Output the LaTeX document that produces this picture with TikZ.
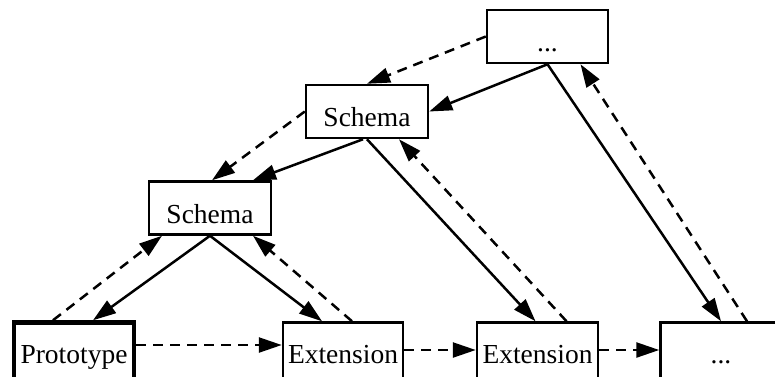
\documentclass[tikz,border=0pt]{standalone}
\usepackage{fontspec}
\setmainfont{Liberation Serif}
\usetikzlibrary{arrows.meta}
\begin{document}
\begin{tikzpicture}[x=1pt,y=-1pt,
  box/.style={draw, line width=2.5pt, minimum height=53pt, inner sep=0pt,
    text height=30pt, text depth=0pt, font=\fontsize{27.5}{30}\selectfont},
  lowbox/.style={box, minimum height=60pt, text height=21pt},
  solidedge/.style={line width=2.5pt, -{Triangle[length=23pt,width=15pt]}},
  dashededge/.style={solidedge, dash pattern=on 10pt off 7pt}]
\useasboundingbox (0,0) rectangle (775,376);
\node[box, minimum width=121pt] (top) at (547.5,36.5) {...};
\node[box, minimum width=122pt] (s2) at (367,111.5) {Schema};
\node[box, minimum width=122pt] (s1) at (210,208) {Schema};
\node[lowbox, minimum width=120pt, line width=4.5pt] (proto) at (74,352.5) {Prototype};
\node[lowbox, minimum width=120pt] (e1) at (343,352.5) {Extension};
\node[lowbox, minimum width=121pt] (e2) at (537.5,352.5) {Extension};
\node[lowbox, minimum width=121pt] (last) at (721,352.5) {...};

\draw[solidedge] (top.south) -- (s2.east);
\draw[dashededge] (top.west) -- (s2.north);
\draw[solidedge] (top.south) -- (last.north);
\draw[dashededge] ([xshift=26pt]last.north) -- ([xshift=33pt]top.south);
\draw[solidedge] ([xshift=-4pt]s2.south) -- ([xshift=43pt]s1.north);
\draw[dashededge] (s2.west) -- ([xshift=2pt]s1.north);
\draw[solidedge] (s2.south) -- ([xshift=-2pt]e2.north);
\draw[dashededge] ([xshift=29pt]e2.north) -- ([xshift=32pt]s2.south);
\draw[solidedge] (s1.south) -- ([xshift=19pt]proto.north);
\draw[dashededge] ([xshift=-21pt]proto.north) -- ([xshift=-48pt]s1.south);
\draw[solidedge] (s1.south) -- ([xshift=-21pt]e1.north);
\draw[dashededge] ([xshift=9pt]e1.north) -- ([xshift=43pt]s1.south);
\draw[dashededge] ([yshift=7.5pt]proto.east) -- ([yshift=7.5pt]e1.west);
\draw[dashededge] ([yshift=2.5pt]e1.east) -- ([yshift=2.5pt]e2.west);
\draw[dashededge] ([yshift=2.5pt]e2.east) -- ([yshift=2.5pt]last.west);
\end{tikzpicture}
\end{document}
